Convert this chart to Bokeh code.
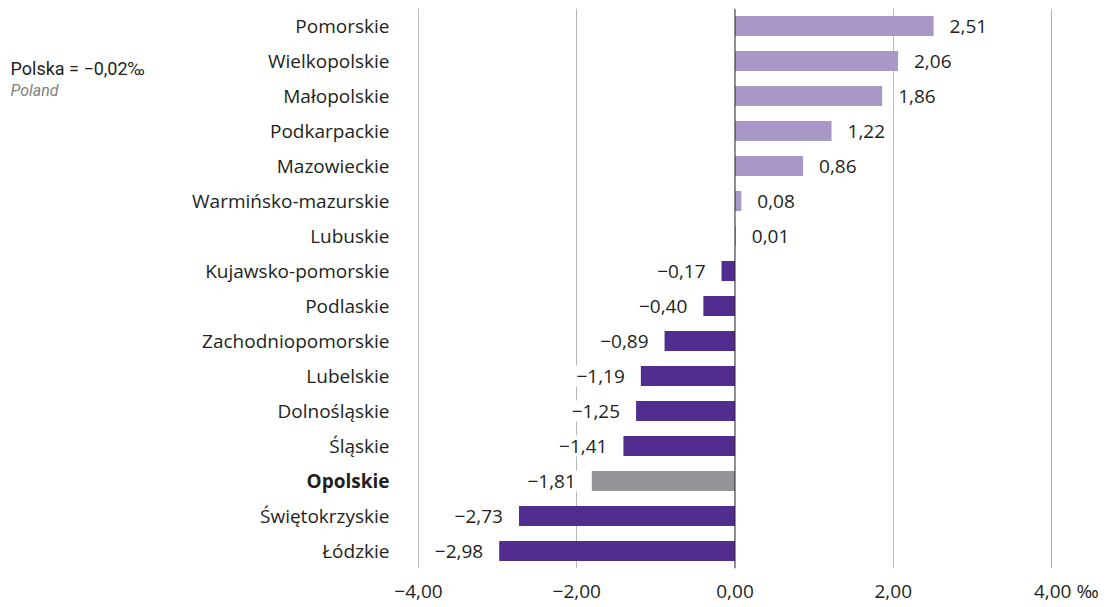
from bokeh.plotting import figure
from bokeh.models import ColumnDataSource, FactorRange, Range1d, FixedTicker, Span, Label
from bokeh.core.properties import value
from bokeh.embed import file_html
from bokeh.resources import INLINE

regions = ["Pomorskie", "Wielkopolskie", "Małopolskie", "Podkarpackie", "Mazowieckie",
           "Warmińsko-mazurskie", "Lubuskie", "Kujawsko-pomorskie", "Podlaskie",
           "Zachodniopomorskie", "Lubelskie", "Dolnośląskie", "Śląskie", "Opolskie",
           "Świętokrzyskie", "Łódzkie"]
values = [2.51, 2.06, 1.86, 1.22, 0.86, 0.08, 0.01, -0.17, -0.40, -0.89, -1.19,
          -1.25, -1.41, -1.81, -2.73, -2.98]
highlight = "Opolskie"
tick_values = [-4, -2, 0, 2, 4]
NB = "\u00a0"
tick_labels = {-4: "\u22124,00", -2: "\u22122,00", 0: "0,00", 2: "2,00",
               4: NB * 6 + "4,00" + NB + "\u2030"}
poland_value = "\u22120,02"

POS = "#a898c8"
NEG = "#512d8f"
HIL = "#939598"
TXT = "#231f20"
FONT = "Open Sans"
FS = "19px"

def fmt(v):
    s = f"{abs(v):.2f}".replace(".", ",")
    return ("\u2212" + s) if v < 0 else s

colors = [HIL if r == highlight else (POS if v >= 0 else NEG) for r, v in zip(regions, values)]
src = ColumnDataSource(dict(
    region=regions, val=values, color=colors,
    cat_style=["bold" if r == highlight else "normal" for r in regions],
))
pos_src = ColumnDataSource(dict(
    region=[r for r, v in zip(regions, values) if v >= 0],
    val=[v for v in values if v >= 0],
    label=[fmt(v) for v in values if v >= 0]))
neg_src = ColumnDataSource(dict(
    region=[r for r, v in zip(regions, values) if v < 0],
    val=[v for v in values if v < 0],
    label=[fmt(v) for v in values if v < 0]))

W, H = 1105, 607
p = figure(width=W, height=H, output_backend="svg", toolbar_location=None,
           y_range=FactorRange(factors=list(reversed(regions)), range_padding=0),
           x_range=Range1d(-9.2828, 4.6825),
           min_border_left=0, min_border_right=0, min_border_top=8, min_border_bottom=39)
p.outline_line_color = None
p.yaxis.visible = False
p.ygrid.grid_line_color = None
p.xgrid.ticker = FixedTicker(ticks=[-4, -2, 2, 4])
p.xgrid.grid_line_color = "#b8b8b8"
p.xgrid.grid_line_width = 1

xa = p.xaxis[0]
xa.ticker = FixedTicker(ticks=tick_values)
xa.major_label_overrides = tick_labels
xa.axis_line_color = None
xa.major_tick_line_color = None
xa.minor_tick_line_color = None
xa.major_tick_out = 0
xa.major_tick_in = 0
xa.minor_tick_out = 0
xa.minor_tick_in = 0
xa.major_label_standoff = 9
xa.major_label_text_font = FONT
xa.major_label_text_font_size = FS
xa.major_label_text_color = TXT

p.hbar(y="region", right="val", left=0, height=0.57, color="color", line_color=None, source=src)

p.add_layout(Span(location=0, dimension="height", line_color=TXT, line_width=1))

# category labels
p.text(x=-4.3665, y="region", text="region", source=src, text_align="right",
       text_baseline="middle", text_font=value(FONT), text_font_size=FS,
       text_color=TXT, text_font_style="cat_style")

# value labels
p.text(x="val", y="region", text="label", source=pos_src, text_align="left",
       text_baseline="middle", text_font=value(FONT), text_font_size=FS,
       text_color=TXT, x_offset=12, background_fill_color="white", padding=4)
p.text(x="val", y="region", text="label", source=neg_src, text_align="right",
       text_baseline="middle", text_font=value(FONT), text_font_size=FS,
       text_color=TXT, x_offset=-12, background_fill_color="white", padding=4)

# Poland note
p.add_layout(Label(x=10, y=500, x_units="screen", y_units="screen",
                   text="Polska = " + poland_value + "\u2030", text_align="left",
                   text_baseline="middle", text_font="Roboto", text_font_size="18px",
                   text_color=TXT))
p.add_layout(Label(x=10, y=478, x_units="screen", y_units="screen",
                   text="Poland", text_align="left", text_baseline="middle",
                   text_font="Roboto", text_font_size="16px", text_font_style="italic",
                   text_color="#808080"))

open("out.html", "w").write(file_html(p, INLINE))
